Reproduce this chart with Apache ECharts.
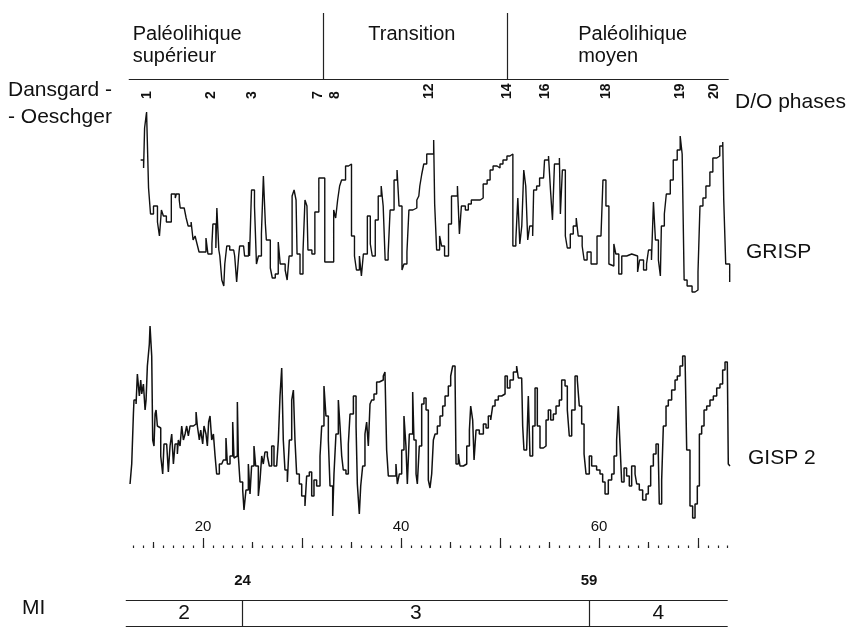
<!DOCTYPE html>
<html>
<head>
<meta charset="utf-8">
<script src="https://cdn.jsdelivr.net/npm/echarts@6/dist/echarts.min.js"></script>
<style>
  html, body { margin: 0; padding: 0; background: #fff; }
  #chart { width: 848px; height: 627px; }
</style>
</head>
<body>
<div id="chart"></div>
<script>
// ages in ka BP, values as delta 18O (per mil)
var grispAge = [13.7,14.0,14.1,14.3,14.5,14.7,15.0,15.4,15.6,15.8,16.0,16.3,16.8,17.2,17.3,17.6,17.7,18.1,18.3,18.5,18.8,19.0,19.2,19.4,19.6,20.3,20.5,20.9,21.0,21.3,21.4,21.6,21.7,21.9,22.1,22.2,22.4,22.7,23.1,23.2,23.4,23.6,23.7,24.1,24.2,24.6,24.7,24.9,25.2,25.4,25.6,25.9,26.1,26.3,26.4,26.8,27.0,27.3,27.6,27.8,28.3,28.5,28.7,29.0,29.2,29.4,29.5,29.8,30.1,30.3,30.5,30.6,31.0,31.3,31.7,32.3,33.2,33.4,33.6,33.8,34.0,34.4,34.7,35.0,35.3,35.5,35.8,36.0,36.2,36.6,36.9,37.1,37.4,37.7,38.0,38.2,38.4,38.7,38.9,39.3,39.6,39.8,40.1,40.3,40.6,40.8,41.2,41.6,41.8,41.9,42.1,42.3,42.6,43.3,43.4,43.6,43.9,44.1,44.4,44.8,45.1,45.7,45.9,46.1,46.5,46.8,47.1,48.0,48.3,48.7,49.0,49.3,49.7,50.0,50.3,50.7,51.0,51.3,51.6,51.8,52.0,52.2,52.4,52.6,52.8,53.0,53.3,53.4,53.7,54.0,54.4,54.5,54.9,55.1,55.3,55.5,56.0,56.1,56.3,56.6,56.8,57.1,57.4,57.7,57.9,58.3,58.5,58.8,59.2,59.8,60.2,60.4,60.7,61.0,61.2,61.5,61.7,62.0,62.3,62.8,63.3,63.9,64.1,64.5,64.8,65.0,65.3,65.5,65.7,66.0,66.2,66.3,66.6,66.8,67.2,67.5,67.9,68.2,68.4,68.6,68.9,69.4,69.7,70.0,70.2,70.5,70.8,71.2,71.5,71.9,72.2,72.5,72.6,72.8,73.2];
var grispD18O = [-38.0,-38.4,-36.4,-35.6,-39.4,-40.7,-40.3,-41.1,-41.8,-40.5,-40.8,-41.1,-39.7,-39.9,-39.7,-40.0,-40.4,-40.5,-40.9,-41.3,-41.1,-42.0,-41.8,-42.2,-42.6,-41.9,-42.7,-42.2,-41.2,-42.4,-40.4,-42.5,-42.8,-44.0,-44.3,-43.2,-42.3,-42.5,-42.4,-42.8,-44.1,-42.8,-42.3,-42.4,-42.8,-42.1,-42.8,-39.5,-40.3,-43.2,-42.8,-41.7,-38.8,-41.2,-42.0,-43.4,-43.9,-43.7,-42.1,-43.2,-43.5,-44.0,-42.8,-39.8,-39.5,-40.0,-42.7,-43.7,-42.6,-40.0,-40.3,-42.5,-42.7,-40.6,-38.9,-43.1,-40.5,-40.9,-40.0,-39.3,-39.0,-38.3,-38.2,-41.8,-42.8,-43.5,-42.8,-43.8,-42.7,-40.8,-42.2,-42.8,-41.0,-39.8,-39.3,-40.3,-43.0,-42.7,-40.5,-39.0,-38.5,-40.3,-43.5,-43.2,-42.6,-40.5,-40.4,-40.0,-39.8,-39.3,-38.7,-38.2,-37.7,-37.0,-40.2,-42.5,-41.8,-42.3,-42.8,-41.2,-39.8,-39.3,-41.7,-40.3,-40.5,-40.2,-40.0,-39.9,-39.2,-39.0,-38.5,-38.3,-38.4,-38.2,-38.0,-37.8,-37.7,-42.3,-42.0,-39.9,-42.2,-41.3,-38.5,-39.3,-42.0,-41.3,-41.8,-39.5,-39.3,-38.9,-39.0,-38.0,-37.8,-39.5,-41.0,-38.2,-37.9,-40.7,-38.5,-41.8,-42.4,-41.7,-41.3,-40.9,-41.8,-42.3,-43.0,-42.6,-43.2,-41.8,-41.7,-39.0,-40.3,-43.2,-43.3,-42.2,-42.7,-43.7,-42.8,-42.7,-42.8,-43.6,-43.0,-43.5,-43.2,-42.5,-43.0,-40.1,-42.0,-43.0,-43.8,-41.3,-40.7,-39.7,-39.0,-38.0,-37.5,-36.8,-37.7,-44.0,-44.3,-44.6,-44.5,-43.6,-40.3,-39.9,-39.3,-38.6,-37.9,-37.8,-37.3,-37.1,-40.0,-43.2,-44.1];

var gisp2Age = [12.63,12.80,12.97,13.03,13.24,13.37,13.57,13.71,13.81,13.98,14.15,14.25,14.38,14.58,14.65,14.82,14.92,15.05,15.16,15.26,15.39,15.59,15.73,15.93,16.06,16.33,16.50,16.67,16.84,17.01,17.18,17.41,17.51,17.68,17.85,18.02,18.19,18.35,18.52,18.69,19.03,19.30,19.43,19.63,19.77,19.97,20.10,20.30,20.44,20.57,20.71,20.88,21.05,21.22,21.38,21.65,21.89,22.06,22.32,22.46,22.73,23.00,23.13,23.33,23.47,23.57,23.74,24.01,24.14,24.34,24.58,24.75,24.91,25.15,25.32,25.59,25.76,25.93,26.09,26.26,26.50,26.70,26.94,27.17,27.44,27.61,27.78,27.95,28.11,28.28,28.52,28.72,28.96,29.13,29.29,29.46,29.73,29.97,30.30,30.47,30.74,30.98,31.21,31.48,31.82,31.99,32.22,32.42,32.66,32.83,33.10,33.23,33.43,33.67,33.84,34.01,34.17,34.44,34.68,34.85,35.19,35.46,35.59,35.79,35.93,36.13,36.36,36.53,36.70,36.87,37.04,37.27,37.54,37.81,38.21,38.38,38.55,38.72,39.49,39.63,39.83,40.07,40.30,40.50,40.64,40.84,41.18,41.31,41.52,41.65,41.85,42.09,42.32,42.53,42.76,42.93,43.10,43.27,43.44,43.67,43.94,44.21,44.45,44.78,45.02,45.22,45.46,45.56,45.79,45.96,46.30,46.64,46.91,47.04,47.24,47.38,47.58,47.91,48.32,48.59,48.82,49.06,49.26,49.50,49.83,50.17,50.51,50.74,51.01,51.35,51.68,51.85,52.19,52.29,52.42,52.69,52.86,53.03,53.30,53.54,53.77,54.04,54.38,54.65,54.88,55.12,55.39,55.66,55.99,56.23,56.57,56.80,57.00,57.24,57.58,57.81,58.01,58.25,58.49,58.69,59.02,59.26,59.76,60.10,60.37,60.61,60.94,61.28,61.52,61.78,61.95,62.12,62.29,62.53,62.79,63.06,63.30,63.64,63.81,64.07,64.41,64.75,64.98,65.22,65.49,65.76,65.99,66.09,66.33,66.50,66.77,67.00,67.34,67.68,67.91,68.18,68.45,68.69,68.86,69.19,69.46,69.70,69.93,70.14,70.37,70.61,70.88,71.21,71.55,71.89,72.22,72.49,72.73,72.96,73.06,73.23];
var gisp2D18O = [-43.2,-42.2,-39.7,-39.0,-39.2,-37.7,-38.8,-38.0,-38.7,-38.2,-39.5,-39.0,-37.3,-36.2,-35.3,-36.8,-41.0,-41.3,-39.7,-39.5,-40.3,-40.4,-41.8,-42.7,-41.2,-41.3,-42.6,-41.3,-40.7,-42.2,-41.2,-41.7,-41.0,-41.3,-40.3,-41.0,-40.7,-40.3,-40.8,-40.3,-40.2,-39.6,-40.3,-41.0,-40.5,-41.2,-40.3,-40.7,-41.3,-40.1,-39.8,-41.0,-40.7,-41.8,-42.7,-42.2,-42.3,-42.0,-40.9,-42.2,-41.8,-40.1,-41.9,-41.8,-39.1,-41.8,-43.1,-43.5,-44.5,-43.5,-42.2,-43.7,-42.3,-41.3,-42.3,-43.8,-43.0,-41.8,-42.2,-41.6,-41.8,-42.3,-41.3,-42.3,-42.2,-41.0,-38.8,-37.4,-41.0,-42.5,-43.1,-41.0,-39.0,-38.5,-41.0,-42.7,-43.2,-43.8,-44.3,-42.8,-42.6,-43.8,-43.0,-43.3,-41.8,-40.3,-38.3,-39.8,-41.0,-43.3,-44.8,-42.7,-40.7,-39.0,-40.3,-41.8,-42.5,-42.7,-41.2,-39.7,-38.8,-40.3,-43.2,-44.7,-43.3,-42.3,-40.7,-40.1,-41.3,-39.2,-39.0,-38.7,-38.1,-38.0,-37.8,-37.6,-41.5,-42.8,-42.2,-43.2,-42.7,-41.5,-39.8,-41.3,-43.2,-40.7,-38.6,-41.0,-42.7,-43.2,-41.3,-39.2,-38.9,-39.5,-43.0,-43.4,-42.7,-41.0,-40.7,-40.3,-39.8,-39.3,-38.8,-38.3,-37.8,-37.3,-37.8,-42.2,-41.7,-42.3,-42.2,-41.3,-40.5,-39.3,-40.0,-42.0,-40.5,-40.7,-40.2,-40.4,-39.8,-40.0,-39.3,-39.0,-38.8,-38.7,-37.8,-38.4,-38.0,-37.6,-37.3,-37.9,-37.8,-40.3,-41.5,-41.6,-38.8,-41.8,-40.3,-38.4,-40.3,-41.4,-41.3,-40.0,-39.5,-40.0,-39.7,-39.3,-39.0,-38.0,-38.3,-39.5,-40.8,-39.5,-37.8,-38.0,-39.3,-40.2,-41.7,-42.7,-41.8,-42.3,-42.5,-42.7,-43.1,-43.7,-43.0,-42.7,-41.8,-41.0,-39.3,-41.2,-43.1,-42.4,-42.8,-43.3,-42.3,-42.7,-43.2,-43.5,-44.0,-43.7,-43.3,-42.3,-41.7,-41.2,-41.7,-44.2,-43.0,-40.3,-39.3,-39.0,-38.5,-38.0,-37.8,-37.3,-36.8,-36.9,-41.5,-44.3,-44.9,-44.2,-43.3,-40.7,-40.3,-39.5,-39.3,-39.0,-38.8,-38.4,-38.2,-37.5,-37.1,-37.2,-42.2,-42.3];

// Dansgaard-Oeschger phase numbers and where they sit (ka)
var doPhases = ['1', '2', '3', '7', '8', '12', '14', '16', '18', '19', '20'];
var doAge = [14.4, 20.8, 25.0, 31.6, 33.3, 42.8, 50.7, 54.6, 60.7, 68.2, 71.6];

// cultural periods
var periodNames = ['Paléolihique\nsupérieur', 'Transition', 'Paléolihique\nmoyen'];
var periodLabelAge = [12.9, 41.1, 57.9];
var periodBounds = [32.1, 50.7];
var periodExtent = [12.5, 73.1];

// age scale
var ageLabels = [20, 40, 60];
var ageTicks10 = [20, 30, 40, 50, 60, 70];
var ageTicks5 = [15, 25, 35, 45, 55, 65];
var ageTicks1 = [];
for (var k = 13; k <= 73; k++) ageTicks1.push(k);

// marine isotope stages
var miStages = ['2', '3', '4'];
var miBounds = [24, 59];
var miExtent = [12.2, 73.0];

var X_MIN = 12, X_MAX = 74;
var FONT = '"Liberation Sans", Arial, sans-serif';
var INK = '#111';

function pairs(xs, ys) {
  return xs.map(function (x, i) { return [x, ys[i]]; });
}

var gridTops = [13, 80, 100, 300, 538, 538, 538, 600];
var gridHeights = [66, 19, 200, 220, 10, 10, 10, 26];
var grids = gridTops.map(function (t, i) {
  return { left: 123.8, width: 613.8, top: t, height: gridHeights[i] };
});

function hiddenX(gi) {
  return { gridIndex: gi, type: 'value', min: X_MIN, max: X_MAX, show: false };
}
function tickX(gi, ticks, len, labels) {
  return {
    gridIndex: gi, type: 'value', min: X_MIN, max: X_MAX, position: 'bottom',
    axisLine: { show: false },
    splitLine: { show: false },
    axisTick: { show: true, customValues: ticks, length: len, inside: true,
                lineStyle: { color: '#222', width: 1.2 } },
    axisLabel: labels ? { show: true, inside: true, customValues: labels, margin: 14,
                          fontSize: 15, color: INK, fontFamily: FONT }
                      : { show: false }
  };
}
function yAx(gi, min, max) {
  return { gridIndex: gi, type: 'value', min: min, max: max, show: false };
}

var lineStyleMarks = { color: '#222', width: 1.2, type: 'solid' };
var plainText = { color: INK, fontFamily: FONT, textBorderWidth: 0, textBorderColor: 'transparent',
                  textShadowBlur: 0, opacity: 1 };
function textLabel(extra) {
  return Object.assign({ show: true, formatter: '{b}' }, plainText, extra);
}

var headLines = [[{ coord: [periodExtent[0], 0] }, { coord: [periodExtent[1], 0] }]];
periodBounds.forEach(function (b) {
  headLines.push([{ coord: [b, 0] }, { coord: [b, 1] }]);
});

var miLines = [
  [{ coord: [miExtent[0], 1] }, { coord: [miExtent[1], 1] }],
  [{ coord: [miExtent[0], 0] }, { coord: [miExtent[1], 0] }]
];
miBounds.forEach(function (b) {
  miLines.push([{ coord: [b, 0] }, { coord: [b, 1] }]);
});
var miEdges = [miExtent[0]].concat(miBounds, [miExtent[1]]);

var option = {
  animation: false,
  backgroundColor: '#fff',
  grid: grids,
  xAxis: [
    hiddenX(0), hiddenX(1), hiddenX(2), hiddenX(3),
    tickX(4, ageTicks10, 10, ageLabels),
    tickX(5, ageTicks5, 6, null),
    tickX(6, ageTicks1, 2.5, null),
    hiddenX(7)
  ],
  yAxis: [
    yAx(0, 0, 1), yAx(1, 0, 1), yAx(2, -45, -35), yAx(3, -45, -34),
    yAx(4, 0, 1), yAx(5, 0, 1), yAx(6, 0, 1), yAx(7, 0, 1)
  ],
  graphic: [
    { type: 'text', left: 8, top: 77, style: { text: 'Dansgard -\n- Oeschger', font: '21px ' + FONT, lineHeight: 27, fill: INK } },
    { type: 'text', left: 735, top: 92, style: { text: 'D/O phases', font: '21px ' + FONT, fill: INK } },
    { type: 'text', left: 746, top: 242, style: { text: 'GRISP', font: '21px ' + FONT, fill: INK } },
    { type: 'text', left: 748, top: 448, style: { text: 'GISP 2', font: '21px ' + FONT, fill: INK } },
    { type: 'text', left: 22, top: 598, style: { text: 'MI', font: '21px ' + FONT, fill: INK } }
  ],
  series: [
    {
      type: 'scatter', xAxisIndex: 0, yAxisIndex: 0, symbolSize: 1, silent: true,
      itemStyle: { color: 'transparent' },
      data: periodLabelAge.map(function (a, i) {
        return { value: [a, 0.84], name: periodNames[i],
                 label: { align: i === 1 ? 'center' : 'left' } };
      }),
      label: textLabel({ position: 'inside', verticalAlign: 'top', fontSize: 20, lineHeight: 22 }),
      markLine: { silent: true, symbol: ['none', 'none'], label: { show: false },
                  lineStyle: lineStyleMarks, data: headLines }
    },
    {
      type: 'scatter', xAxisIndex: 1, yAxisIndex: 1, symbolSize: 1, silent: true,
      itemStyle: { color: 'transparent' },
      data: doAge.map(function (a, i) { return { value: [a, 0], name: doPhases[i] }; }),
      label: textLabel({ position: 'inside', rotate: 90, align: 'left', verticalAlign: 'middle',
                         fontSize: 14, fontWeight: 'bold' })
    },
    {
      name: 'GRISP', type: 'line', xAxisIndex: 2, yAxisIndex: 2, step: 'end',
      showSymbol: false, silent: true, clip: false,
      lineStyle: { color: INK, width: 1.4 },
      data: pairs(grispAge, grispD18O)
    },
    {
      name: 'GISP 2', type: 'line', xAxisIndex: 3, yAxisIndex: 3, step: 'end',
      showSymbol: false, silent: true, clip: false,
      lineStyle: { color: INK, width: 1.5 },
      data: pairs(gisp2Age, gisp2D18O)
    },
    {
      type: 'scatter', xAxisIndex: 7, yAxisIndex: 7, symbolSize: 1, silent: true,
      itemStyle: { color: 'transparent' },
      data: miStages.map(function (s, i) {
        return { value: [(miEdges[i] + miEdges[i + 1]) / 2, 0.5], name: s };
      }),
      label: textLabel({ position: 'inside', fontSize: 21 }),
      markLine: { silent: true, symbol: ['none', 'none'], label: { show: false },
                  lineStyle: lineStyleMarks, data: miLines }
    },
    {
      type: 'scatter', xAxisIndex: 7, yAxisIndex: 7, symbolSize: 1, silent: true,
      itemStyle: { color: 'transparent' },
      data: miBounds.map(function (b) { return { value: [b, 1], name: String(b) }; }),
      label: textLabel({ position: 'top', distance: 11, fontSize: 15, fontWeight: 'bold' })
    }
  ]
};

var chart = echarts.init(document.getElementById('chart'));
chart.setOption(option);
</script>
</body>
</html>
